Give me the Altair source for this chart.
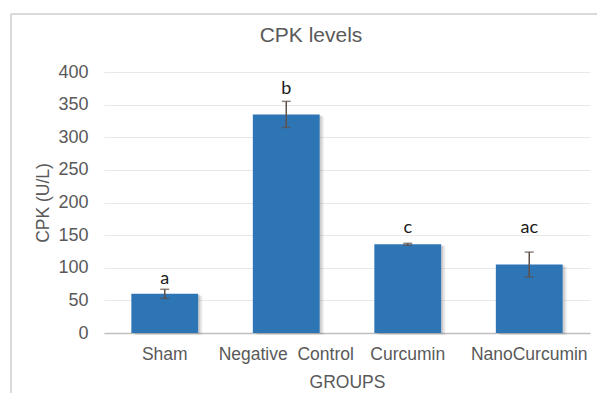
import altair as alt
import pandas as pd

# ---- data ----
groups = ["Sham", "Negative\u00a0 Control", "Curcumin", "NanoCurcumin"]
values = [60, 335, 136, 105]
errors = [7, 20, 1.5, 19]
letters = ["a", "b", "c", "ac"]
letter_y = [75, 367, 154, 154]
y_ticks = [0, 50, 100, 150, 200, 250, 300, 350, 400]
chart_title = "CPK levels"
x_title = "GROUPS"
y_title = "CPK (U/L)"

df = pd.DataFrame({
    "group": groups,
    "value": values,
    "err": errors,
    "letter": letters,
    "ly": letter_y,
})

W, H = 486, 261
BAR = "#2E75B6"
TXT = "#595959"
AXF = "Liberation Sans"

x_scale = alt.Scale(domain=groups, paddingInner=0.45, paddingOuter=0.225)
y_scale = alt.Scale(domain=[0, 400], nice=False)

x_axis = alt.Axis(
    title=x_title, labelAngle=0, ticks=False, domainColor="#bfbfbf", domainWidth=1.5,
    labelFont=AXF, labelFontSize=17.5, labelColor=TXT, labelPadding=12,
    titleFont=AXF, titleFontSize=17.5, titleFontWeight="normal", titleColor=TXT,
    titleY=54, titleBaseline="alphabetic", grid=False,
)
y_axis = alt.Axis(
    title=y_title, values=y_ticks, domain=False, ticks=False, grid=True,
    gridColor="#e8e8e8", gridWidth=1,
    labelFont=AXF, labelFontSize=18, labelColor=TXT, labelPadding=16,
    titleFont=AXF, titleFontSize=17.5, titleFontWeight="normal", titleColor=TXT,
    titleX=-61, titleY=H / 2, titleBaseline="middle", titleAngle=270,
)


def X():
    return alt.X("group:N", sort=groups, scale=x_scale, axis=x_axis, title=x_title)


def Y(field):
    return alt.Y(field, scale=y_scale, axis=y_axis, title=y_title)


base = alt.Chart(df).transform_calculate(
    lo="datum.value - datum.err", hi="datum.value + datum.err"
)

shadow1 = base.mark_bar(color="#7f7f7f", opacity=0.18, xOffset=4, yOffset=2).encode(
    x=X(), y=Y("value:Q"))
shadow2 = base.mark_bar(color="#7f7f7f", opacity=0.25, xOffset=2, yOffset=1).encode(
    x=X(), y=Y("value:Q"))
bars = base.mark_bar(color=BAR).encode(x=X(), y=Y("value:Q"))

err_rule = base.mark_rule(color="#5f5048", strokeWidth=1.5).encode(
    x=X(), y=Y("lo:Q"), y2="hi:Q")
cap_lo = base.mark_tick(color="#5f5048", size=9, thickness=1.5).encode(
    x=X(), y=Y("lo:Q"))
cap_hi = base.mark_tick(color="#5f5048", size=9, thickness=1.5).encode(
    x=X(), y=Y("hi:Q"))

lett = base.mark_text(font="Lato", fontSize=18, color="#1a1a1a", baseline="alphabetic").encode(
    x=X(), y=Y("ly:Q"), text="letter:N")

one = alt.Chart(pd.DataFrame({"k": [0]}))
title_mark = one.mark_text(font=AXF, fontSize=21, color=TXT, baseline="alphabetic", align="center").encode(
    x=alt.value(207), y=alt.value(-30), text=alt.value(chart_title)
)
frame_left = one.mark_rule(color="#d9d9d9", strokeWidth=2).encode(
    x=alt.value(-93), y=alt.value(-58), y2=alt.value(H + 80)
)
frame_top = one.mark_rule(color="#d9d9d9", strokeWidth=2).encode(
    x=alt.value(-93), x2=alt.value(W + 40), y=alt.value(-58)
)

chart = alt.layer(
    shadow1, shadow2, bars, err_rule, cap_lo, cap_hi, lett, title_mark, frame_left, frame_top
).properties(
    width=W, height=H,
    autosize=alt.AutoSizeParams(type="none"),
    padding={"left": 96, "top": 64, "right": 7, "bottom": 60},
    background="white",
).configure_view(stroke=None)

chart.save("out.html", embed_options={"renderer": "svg", "actions": False})
